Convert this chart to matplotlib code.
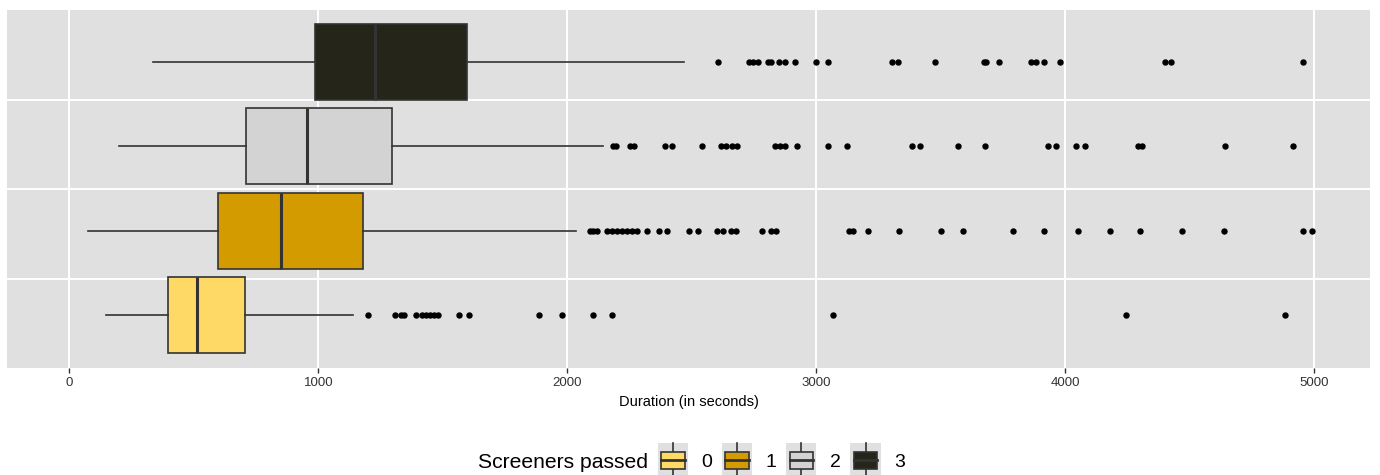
import matplotlib
matplotlib.use('Agg')
import matplotlib.pyplot as plt
from matplotlib.legend_handler import HandlerBase
from matplotlib.patches import Rectangle
from matplotlib.lines import Line2D

plt.rcParams['font.family'] = ['Liberation Sans', 'DejaVu Sans']

groups = ['0', '1', '2', '3']
fills = ['#FFD966', '#D39B00', '#D3D3D3', '#252519']

# box statistics per group (seconds)
whisker_lo = [147, 74, 200, 336]
q1 = [396, 595, 711, 986]
medians = [512, 851, 953, 1228]
q3 = [706, 1180, 1296, 1598]
whisker_hi = [1140, 2035, 2143, 2470]

outliers_0 = [1201, 1308, 1331, 1344, 1393, 1415, 1433, 1449, 1465, 1482,
              1563, 1607, 1886, 1979, 2105, 2180, 3067, 4244, 4884]
outliers_1 = [2090, 2105, 2120, 2161, 2179, 2199, 2219, 2239, 2259, 2279,
              2319, 2370, 2400, 2491, 2527, 2600, 2627, 2656, 2677, 2781,
              2817, 2839, 3131, 3149, 3210, 3334, 3500, 3590, 3791, 3917,
              4053, 4180, 4300, 4471, 4638, 4955, 4993]
outliers_2 = [2182, 2196, 2250, 2268, 2394, 2421, 2540, 2617, 2638, 2661,
              2681, 2835, 2855, 2875, 2922, 3049, 3122, 3384, 3418, 3571,
              3677, 3933, 3963, 4042, 4078, 4292, 4308, 4641, 4916]
outliers_3 = [2607, 2732, 2748, 2768, 2808, 2818, 2849, 2875, 2913, 2999,
              3049, 3304, 3327, 3479, 3673, 3684, 3736, 3864, 3882, 3914,
              3980, 4403, 4426, 4957]
outliers = [outliers_0, outliers_1, outliers_2, outliers_3]

x_ticks = [0, 1000, 2000, 3000, 4000, 5000]

panel_bg = '#E0E0E0'
edge = '#333333'


class BoxKeyHandler(HandlerBase):
    # small vertical boxplot glyph for the legend keys
    def create_artists(self, legend, orig_handle, xdescent, ydescent,
                       width, height, fontsize, trans):
        x0, y0 = -xdescent, -ydescent - 0.15 * fontsize
        h = height + ydescent
        cx = x0 + width / 2
        bg = Rectangle((x0, y0), width, h, facecolor=panel_bg,
                       edgecolor='none', transform=trans)
        w1 = Line2D([cx, cx], [y0, y0 + 0.25 * h],
                    color=edge, lw=1.2, transform=trans)
        w2 = Line2D([cx, cx], [y0 + 0.75 * h, y0 + h],
                    color=edge, lw=1.2, transform=trans)
        box = Rectangle((x0 + 0.11 * width, y0 + 0.25 * h),
                        0.78 * width, 0.5 * h,
                        facecolor=orig_handle.get_facecolor(),
                        edgecolor=edge, lw=1.2, transform=trans)
        med = Line2D([x0 + 0.11 * width, x0 + 0.89 * width],
                     [y0 + 0.5 * h, y0 + 0.5 * h],
                     color=edge, lw=2.0, transform=trans)
        return [bg, w1, w2, box, med]


fig = plt.figure(figsize=(13.8, 4.75), dpi=100)
ax = fig.add_axes([7 / 1380, 1 - 368 / 475, 1363 / 1380, 358 / 475])
ax.set_facecolor(panel_bg)

stats = []
for i in range(len(groups)):
    stats.append(dict(whislo=whisker_lo[i], q1=q1[i], med=medians[i],
                      q3=q3[i], whishi=whisker_hi[i], fliers=outliers[i]))

bp = ax.bxp(stats, positions=range(len(groups)), widths=0.9,
            orientation='horizontal', patch_artist=True, showcaps=False,
            boxprops=dict(edgecolor=edge, linewidth=1.2),
            medianprops=dict(color=edge, linewidth=2.2),
            whiskerprops=dict(color=edge, linewidth=1.2),
            flierprops=dict(marker='o', markerfacecolor='black',
                            markeredgecolor='black', markersize=3.6,
                            linestyle='none'),
            zorder=3)
for patch, c in zip(bp['boxes'], fills):
    patch.set_facecolor(c)

ax.set_xlim(-251, 5225)
ax.set_ylim(-0.628, 3.617)

# grid
for t in x_ticks:
    ax.axvline(t, color='white', lw=1.4, zorder=1)
for f in [0.25, 0.5, 0.75]:
    ax.plot([0, 1], [f, f], transform=ax.transAxes, color='white', lw=1.4,
            zorder=1)

for s in ax.spines.values():
    s.set_visible(False)
ax.set_yticks([])
ax.set_xticks(x_ticks)
ax.set_xticklabels([str(t) for t in x_ticks])
ax.tick_params(axis='x', length=3.5, width=1, color=edge, pad=3,
               labelsize=9.5, labelcolor='#333333')
ax.set_xlabel('Duration (in seconds)', fontsize=10.5, color='black',
              labelpad=4)

# legend along the bottom, title on its left
fig.text(478 / 1380, 1 - 462 / 475, 'Screeners passed', fontsize=15.2,
         ha='left', va='center')
handles = [Rectangle((0, 0), 1, 1, facecolor=c) for c in fills]
fig.legend(handles, groups, loc='center left',
           bbox_to_anchor=(658 / 1380, 1 - 461 / 475), ncol=4,
           frameon=False, fontsize=14, borderpad=0, borderaxespad=0,
           handlelength=1.55, handleheight=1.75, handletextpad=0.7,
           columnspacing=0.49,
           handler_map={Rectangle: BoxKeyHandler()})

fig.savefig('out.png', dpi=100)
